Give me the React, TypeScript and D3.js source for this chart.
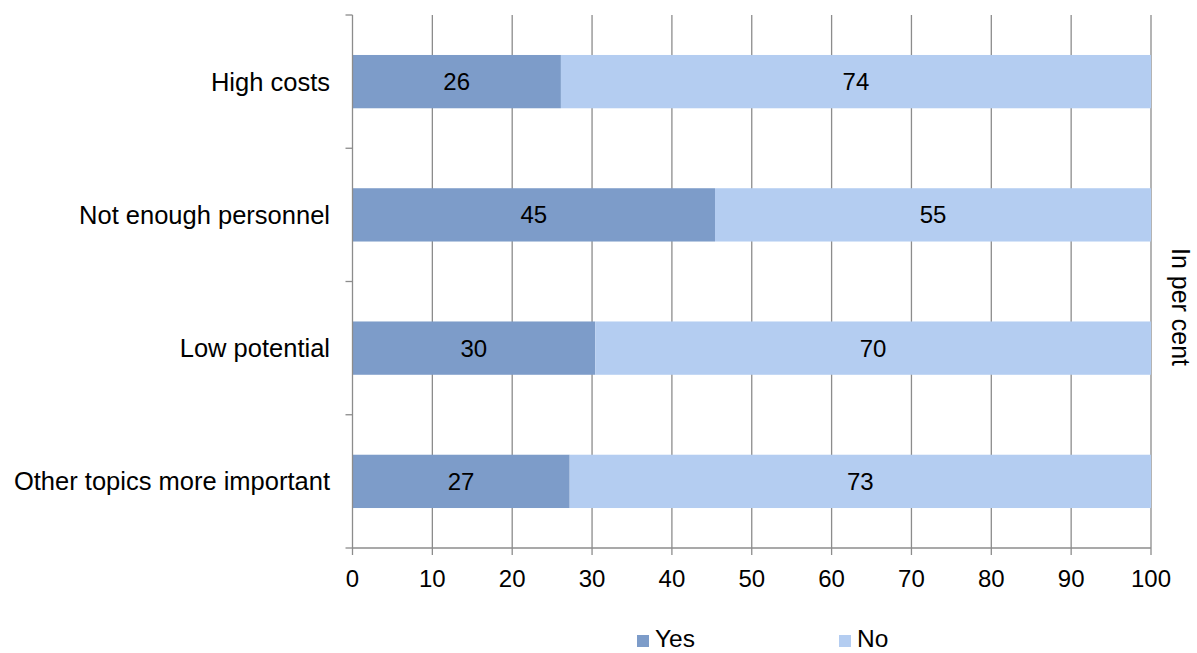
import React from "react";
import * as d3 from "d3";

const categories = ["High costs", "Not enough personnel", "Low potential", "Other topics more important"];
const yesValues = [26.1, 45.4, 30.4, 27.2];
const noValues = [73.9, 54.6, 69.6, 72.8];
const yesLabels = ["26", "45", "30", "27"];
const noLabels = ["74", "55", "70", "73"];
const xTicks = [0, 10, 20, 30, 40, 50, 60, 70, 80, 90, 100];
const seriesNames = ["Yes", "No"];
const seriesColors = ["#7d9cc9", "#b4cdf1"];

const W = 1197;
const H = 653;
const left = 352.5;
const right = 1151;
const top = 15;
const bottom = 548;
const FONT = "'Liberation Sans', Arial, sans-serif";
const FS = 24;
const FS_CAT = 25.5;
const grid = "#8c8c8c";

export default function App() {
  const x = d3.scaleLinear().domain([0, 100]).range([left, right]);
  const y = d3.scaleBand<string>().domain(categories).range([top, bottom]).paddingInner(0.6).paddingOuter(0.3);
  const band = d3.scaleBand<string>().domain(categories).range([top, bottom]);
  const boundaries = [...categories.map((c) => band(c) as number), bottom];

  return (
    <svg width={W} height={H} style={{ position: "absolute", left: 0, top: 0, background: "#fff" }} fontFamily={FONT}>
      {xTicks.slice(1).map((t) => (
        <line key={"g" + t} x1={x(t)} x2={x(t)} y1={top} y2={bottom} stroke={grid} strokeWidth={1.3} />
      ))}
      {categories.map((c, i) => {
        const y0 = y(c) as number;
        const h = y.bandwidth();
        return (
          <g key={c}>
            <rect x={x(0)} y={y0} width={x(yesValues[i]) - x(0)} height={h} fill={seriesColors[0]} />
            <rect x={x(yesValues[i])} y={y0} width={x(yesValues[i] + noValues[i]) - x(yesValues[i])} height={h} fill={seriesColors[1]} />
            <text x={(x(0) + x(yesValues[i])) / 2} y={y0 + h / 2} dy="0.35em" textAnchor="middle" fontSize={FS} fill="#000">
              {yesLabels[i]}
            </text>
            <text x={(x(yesValues[i]) + x(yesValues[i] + noValues[i])) / 2} y={y0 + h / 2} dy="0.35em" textAnchor="middle" fontSize={FS} fill="#000">
              {noLabels[i]}
            </text>
            <text x={330} y={y0 + h / 2} dy="0.35em" textAnchor="end" fontSize={FS_CAT} fill="#000">
              {c}
            </text>
          </g>
        );
      })}
      <line x1={left} x2={left} y1={top} y2={bottom} stroke={grid} strokeWidth={1.3} />
      {boundaries.map((b, i) => (
        <line key={"yt" + i} x1={left - 7} x2={left} y1={b} y2={b} stroke={grid} strokeWidth={1.3} />
      ))}
      <line x1={left} x2={right} y1={bottom} y2={bottom} stroke={grid} strokeWidth={1.3} />
      {xTicks.map((t) => (
        <g key={"xt" + t}>
          <line x1={x(t)} x2={x(t)} y1={bottom} y2={bottom + 7} stroke={grid} strokeWidth={1.3} />
          <text x={x(t)} y={587} textAnchor="middle" fontSize={FS} fill="#000">
            {t}
          </text>
        </g>
      ))}
      <text transform={`translate(1172, 307) rotate(90)`} textAnchor="middle" fontSize={25} fill="#000">
        In per cent
      </text>
      {seriesNames.map((s, i) => {
        const lx = i === 0 ? 637 : 839;
        return (
          <g key={s}>
            <rect x={lx} y={635} width={12} height={12} fill={seriesColors[i]} />
            <text x={lx + 18} y={647} fontSize={24.5} fill="#000">
              {s}
            </text>
          </g>
        );
      })}
    </svg>
  );
}
